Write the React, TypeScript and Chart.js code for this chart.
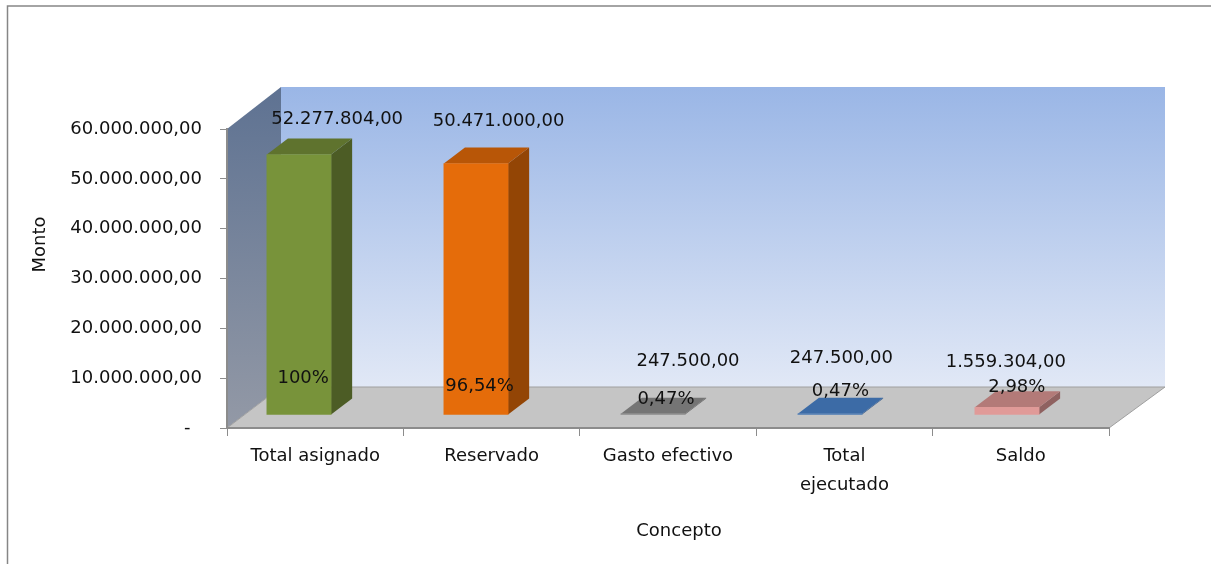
import React, { useEffect, useRef } from "react";
import { Chart, registerables } from "chart.js";

Chart.register(...registerables);

const categories: (string | string[])[] = ["Total asignado", "Reservado", "Gasto efectivo", ["Total", "ejecutado"], "Saldo"];
const montos = [52277804, 50471000, 247500, 247500, 1559304];
const valueLabels = ["52.277.804,00", "50.471.000,00", "247.500,00", "247.500,00", "1.559.304,00"];
const percentLabels = ["100%", "96,54%", "0,47%", "0,47%", "2,98%"];
const frontColors = ["#78933a", "#e56c0a", "#8a8a8a", "#4a7ab5", "#e09a98"];
const topColors = ["#5f732e", "#b85607", "#757575", "#3c6ba6", "#b37a78"];
const sideColors = ["#4c5c25", "#934505", "#5e5e5e", "#2f5585", "#8f6160"];
const yTicks = [0, 10000000, 20000000, 30000000, 40000000, 50000000, 60000000];

const FONT = "'DejaVu Sans', sans-serif";
const FONT_SIZE = 18;
const TEXT = "#111111";
const DEPTH_X = 54, DEPTH_Y = 41;
const BAR_SCALE_X = 1.0034, BAR_SHIFT_X = -17.3, BAR_SHIFT_Y = -13;
const BAR_DEPTH_X = 21, BAR_DEPTH_Y = 16;
const valueOffsets = [[22, -48], [7, -55], [20, -65], [-3, -68], [-15, -58]];
const percentOffsets = [[-12, -49], [-12, -41], [-2, -27], [-4, -35], [-4, -33]];

function fmt(v: number) {
  if (v === 0) return "-  ";
  return v.toLocaleString("de-DE", { minimumFractionDigits: 2, maximumFractionDigits: 2 });
}

function shiftTitle(s: any, dx: number, dy: number) {
  if (s.__shifted) return;
  s.__shifted = true;
  const orig = s.drawTitle.bind(s);
  s.drawTitle = () => {
    s.ctx.save();
    s.ctx.translate(dx, dy);
    orig();
    s.ctx.restore();
  };
}

const scene = {
  id: "scene",
  beforeDraw(chart: any) {
    const { ctx, chartArea: a } = chart;
    const { left, right, top, bottom } = a;
    ctx.save();
    ctx.fillStyle = "#ffffff";
    ctx.fillRect(0, 0, chart.width, chart.height);
    // frame
    ctx.strokeStyle = "#868686";
    ctx.lineWidth = 1.5;
    ctx.beginPath();
    ctx.moveTo(7.5, 564);
    ctx.lineTo(7.5, 6);
    ctx.lineTo(1211, 6);
    ctx.stroke();
    // back wall
    const bl = left + DEPTH_X, br = right + DEPTH_X + 2, bt = top - DEPTH_Y - 1, bb = bottom - DEPTH_Y;
    let g = ctx.createLinearGradient(0, bt, 0, bb);
    g.addColorStop(0, "#9ab6e6");
    g.addColorStop(1, "#e1e8f6");
    ctx.fillStyle = g;
    ctx.fillRect(bl, bt, br - bl, bb - bt);
    // side wall
    g = ctx.createLinearGradient(0, bt, 0, bottom);
    g.addColorStop(0, "#5e7292");
    g.addColorStop(1, "#9399a6");
    ctx.fillStyle = g;
    ctx.beginPath();
    ctx.moveTo(left, top);
    ctx.lineTo(bl, bt);
    ctx.lineTo(bl, bb);
    ctx.lineTo(left, bottom);
    ctx.closePath();
    ctx.fill();
    // floor
    ctx.fillStyle = "#c5c5c5";
    ctx.strokeStyle = "#a0a0a0";
    ctx.lineWidth = 1;
    ctx.beginPath();
    ctx.moveTo(left, bottom);
    ctx.lineTo(bl, bb);
    ctx.lineTo(br, bb);
    ctx.lineTo(right, bottom);
    ctx.closePath();
    ctx.fill();
    ctx.stroke();
    ctx.restore();
  },
  beforeDatasetsDraw(chart: any) {
    const { ctx } = chart;
    const meta = chart.getDatasetMeta(0);
    ctx.save();
    ctx.translate(BAR_SHIFT_X, BAR_SHIFT_Y);
    ctx.scale(BAR_SCALE_X, 1);
    meta.data.forEach((el: any, i: number) => {
      const l = el.x - el.width / 2, r = el.x + el.width / 2, t = el.y, b = el.base;
      ctx.fillStyle = sideColors[i];
      ctx.beginPath();
      ctx.moveTo(r, t);
      ctx.lineTo(r + BAR_DEPTH_X, t - BAR_DEPTH_Y);
      ctx.lineTo(r + BAR_DEPTH_X, b - BAR_DEPTH_Y);
      ctx.lineTo(r, b);
      ctx.closePath();
      ctx.fill();
      ctx.fillStyle = topColors[i];
      ctx.beginPath();
      ctx.moveTo(l, t);
      ctx.lineTo(l + BAR_DEPTH_X, t - BAR_DEPTH_Y);
      ctx.lineTo(r + BAR_DEPTH_X, t - BAR_DEPTH_Y);
      ctx.lineTo(r, t);
      ctx.closePath();
      ctx.fill();
    });
    // the bars themselves are drawn by Chart.js inside this transform
  },
  afterDatasetsDraw(chart: any) {
    const { ctx } = chart;
    ctx.restore();
    const meta = chart.getDatasetMeta(0);
    ctx.save();
    ctx.fillStyle = TEXT;
    ctx.font = `${FONT_SIZE}px ${FONT}`;
    ctx.textAlign = "center";
    ctx.textBaseline = "middle";
    meta.data.forEach((el: any, i: number) => {
      ctx.fillText(valueLabels[i], el.x + valueOffsets[i][0], el.y + valueOffsets[i][1]);
      ctx.fillText(percentLabels[i], el.x + percentOffsets[i][0], (i < 2 ? el.base : el.y) + percentOffsets[i][1]);
    });
    ctx.restore();
  },
};

export default function App() {
  const ref = useRef<HTMLCanvasElement>(null);
  useEffect(() => {
    document.body.style.margin = "0";
    const chart = new Chart(ref.current!, {
      type: "bar",
      data: {
        labels: categories as any,
        datasets: [{ label: "Monto", data: montos, backgroundColor: frontColors, barThickness: 64, borderWidth: 0 }],
      },
      options: {
        responsive: false,
        animation: false,
        layout: { padding: { left: 31, top: 129, right: 1211 - 1109, bottom: 20 } },
        plugins: { legend: { display: false }, tooltip: { enabled: false }, title: { display: false } },
        scales: {
          x: {
            grid: { display: true, drawOnChartArea: false, drawTicks: true, tickLength: 8, color: "#8c8c8c" },
            border: { color: "#8c8c8c", width: 2 },
            ticks: { color: TEXT, font: { family: FONT, size: FONT_SIZE, lineHeight: 1.61 }, padding: 6, maxRotation: 0, autoSkip: false },
            title: { display: true, text: "Concepto", color: TEXT, font: { family: FONT, size: FONT_SIZE }, padding: 0 },
            afterFit(s: any) { s.height = 564 - 428 - 20; shiftTitle(s, 11, -2); },
          },
          y: {
            min: 0,
            max: 60000000,
            afterBuildTicks(s: any) { s.ticks = yTicks.map((value) => ({ value })); },
            grid: { display: true, drawOnChartArea: false, tickLength: 7, color: "#8c8c8c" },
            border: { color: "#8c8c8c", width: 2 },
            ticks: { color: TEXT, font: { family: FONT, size: FONT_SIZE }, padding: 18, callback: (v: any) => fmt(Number(v)) },
            title: { display: true, text: "Monto", color: TEXT, font: { family: FONT, size: FONT_SIZE }, padding: 0 },
            afterFit(s: any) { s.width = 227 - 31; shiftTitle(s, -1, -34); },
          },
        },
      },
      plugins: [scene],
    });
    return () => chart.destroy();
  }, []);
  return <canvas ref={ref} width={1211} height={564} style={{ display: "block" }} />;
}
